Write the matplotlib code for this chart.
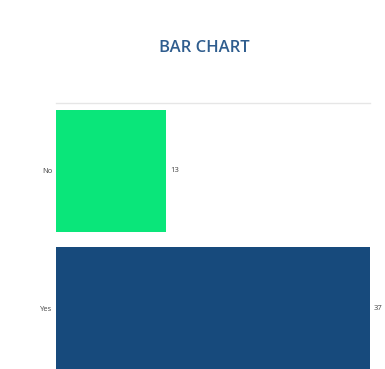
import matplotlib
matplotlib.use("Agg")
import matplotlib.pyplot as plt

categories = ["No", "Yes"]
counts = [13, 37]
bar_colors = ["#0ae67a", "#174a7c"]
title = "BAR CHART"

fig = plt.figure(figsize=(3.85, 3.69), dpi=100)
ax = fig.add_axes([0.1455, 0.0, 0.8155, 0.721])

positions = [1, 0]
ax.barh(positions, counts, height=0.89, color=bar_colors, edgecolor="none")

for pos, val in zip(positions, counts):
    ax.text(val + 0.45, pos, str(val), va="center", ha="left",
            fontsize=5.5, color="#444444", family="Open Sans")

ax.set_yticks(positions)
ax.set_yticklabels(categories, fontsize=5.5, color="#444444", family="Open Sans")
ax.tick_params(axis="y", length=0, pad=2.5)
ax.set_xticks([])
ax.set_xlim(0, 37.05)
ax.set_ylim(-0.445, 1.496)

for side in ["left", "right", "bottom"]:
    ax.spines[side].set_visible(False)
ax.spines["top"].set_color("#e6e6e6")
ax.spines["top"].set_linewidth(1.0)

fig.text(0.531, 0.871, title, ha="center", va="center", fontsize=12,
         fontweight="semibold", color="#2f5d8e", family="Open Sans")

fig.savefig("out.png", dpi=100)
